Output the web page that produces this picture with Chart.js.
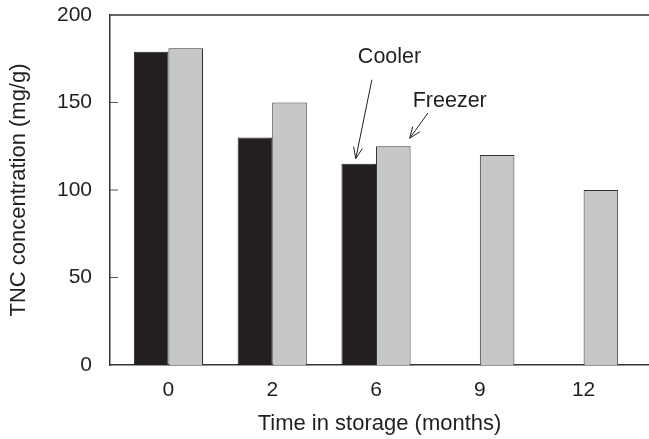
<!DOCTYPE html>
<html lang="en">
<head>
<meta charset="UTF-8">
<title>TNC concentration</title>
<style>
  html, body { margin: 0; padding: 0; background: #fff; overflow: hidden; }
  #chart { display: block; }
</style>
<script src="https://cdn.jsdelivr.net/npm/chart.js@4"></script>
</head>
<body>
<canvas id="chart" width="649" height="439"></canvas>
<script>
const months = ['0', '2', '6', '9', '12'];
const cooler = [179, 130, 115, null, null];
const freezer = [181, 150, 125, 120, 100];
const yTicks = [0, 50, 100, 150, 200];

const FONT = '"Liberation Sans", Arial, Helvetica, sans-serif';
const INK = '#231f20';

// arrow + label callouts, placed in data units
const notes = [
  { text: 'Cooler', at: [2.13, 176], from: [1.96, 163], to: [1.805, 118] },
  { text: 'Freezer', at: [2.71, 151], from: [2.50, 144], to: [2.325, 129.6] }
];

const frame = {
  id: 'frame',
  afterDraw(chart) {
    const { ctx, chartArea: a, scales: { x, y } } = chart;
    ctx.save();
    ctx.strokeStyle = '#333';
    ctx.lineWidth = 1.5;
    ctx.beginPath();
    ctx.moveTo(a.left, a.top);
    ctx.lineTo(a.right, a.top);
    ctx.stroke();

    // inward ticks on y axis
    ctx.strokeStyle = '#555';
    ctx.lineWidth = 1.2;
    ctx.beginPath();
    yTicks.slice(1, -1).forEach(v => {
      const py = y.getPixelForValue(v);
      ctx.moveTo(a.left, py);
      ctx.lineTo(a.left + 8, py);
    });
    ctx.stroke();

    ctx.fillStyle = INK;
    ctx.strokeStyle = INK;
    ctx.lineWidth = 1;
    ctx.font = '21.5px ' + FONT;
    ctx.textAlign = 'center';
    ctx.textBaseline = 'middle';
    notes.forEach(n => {
      ctx.fillText(n.text, x.getPixelForValue(n.at[0]), y.getPixelForValue(n.at[1]));
      const x1 = x.getPixelForValue(n.from[0]), y1 = y.getPixelForValue(n.from[1]);
      const x2 = x.getPixelForValue(n.to[0]), y2 = y.getPixelForValue(n.to[1]);
      const ang = Math.atan2(y2 - y1, x2 - x1);
      ctx.beginPath();
      ctx.moveTo(x1, y1);
      ctx.lineTo(x2, y2);
      ctx.moveTo(x2 - 12 * Math.cos(ang - 0.38), y2 - 12 * Math.sin(ang - 0.38));
      ctx.lineTo(x2, y2);
      ctx.lineTo(x2 - 12 * Math.cos(ang + 0.38), y2 - 12 * Math.sin(ang + 0.38));
      ctx.stroke();
    });
    ctx.restore();
  }
};

new Chart(document.getElementById('chart'), {
  type: 'bar',
  data: {
    datasets: [
      {
        label: 'Cooler',
        data: months.map((m, i) => ({ x: i, y: cooler[i] })),
        backgroundColor: INK,
        borderColor: '#222',
        borderWidth: 1,
        categoryPercentage: 0.666,
        barPercentage: 1.0
      },
      {
        label: 'Freezer',
        data: months.map((m, i) => ({ x: i, y: freezer[i] })),
        backgroundColor: '#c6c7c8',
        borderColor: '#333',
        borderWidth: 1,
        categoryPercentage: 0.666,
        barPercentage: 1.0
      }
    ]
  },
  options: {
    responsive: false,
    animation: false,
    layout: { padding: { left: 2, top: 15, right: 0, bottom: 2 } },
    plugins: {
      legend: { display: false },
      tooltip: { enabled: false }
    },
    scales: {
      x: {
        type: 'linear',
        offset: false,
        min: -0.563,
        max: 4.63,
        afterBuildTicks(s) { s.ticks = months.map((m, i) => ({ value: i })); },
        afterFit(s) { s.height = 72; s.paddingLeft = 0; s.paddingRight = 0; },
        grid: { display: false, drawTicks: false },
        border: { display: true, color: '#333', width: 1.5 },
        ticks: {
          callback: v => months[v],
          color: INK,
          font: { family: FONT, size: 21 },
          padding: 13,
          maxRotation: 0
        },
        title: {
          display: true,
          text: 'Time in storage (months)',
          color: INK,
          font: { family: FONT, size: 22 },
          padding: { top: 4, bottom: 0 }
        }
      },
      y: {
        min: 0,
        max: 200,
        afterBuildTicks(s) { s.ticks = yTicks.map(v => ({ value: v })); },
        afterFit(s) { s.width = 108; s.paddingTop = 0; s.paddingBottom = 0; },
        grid: { display: false, drawTicks: false },
        border: { display: true, color: '#333', width: 1.5 },
        ticks: {
          color: INK,
          font: { family: FONT, size: 21 },
          padding: 18
        },
        title: {
          display: true,
          text: 'TNC concentration (mg/g)',
          color: INK,
          font: { family: FONT, size: 22 },
          padding: { top: 4, bottom: 4 }
        }
      }
    }
  },
  plugins: [frame]
});
</script>
</body>
</html>
